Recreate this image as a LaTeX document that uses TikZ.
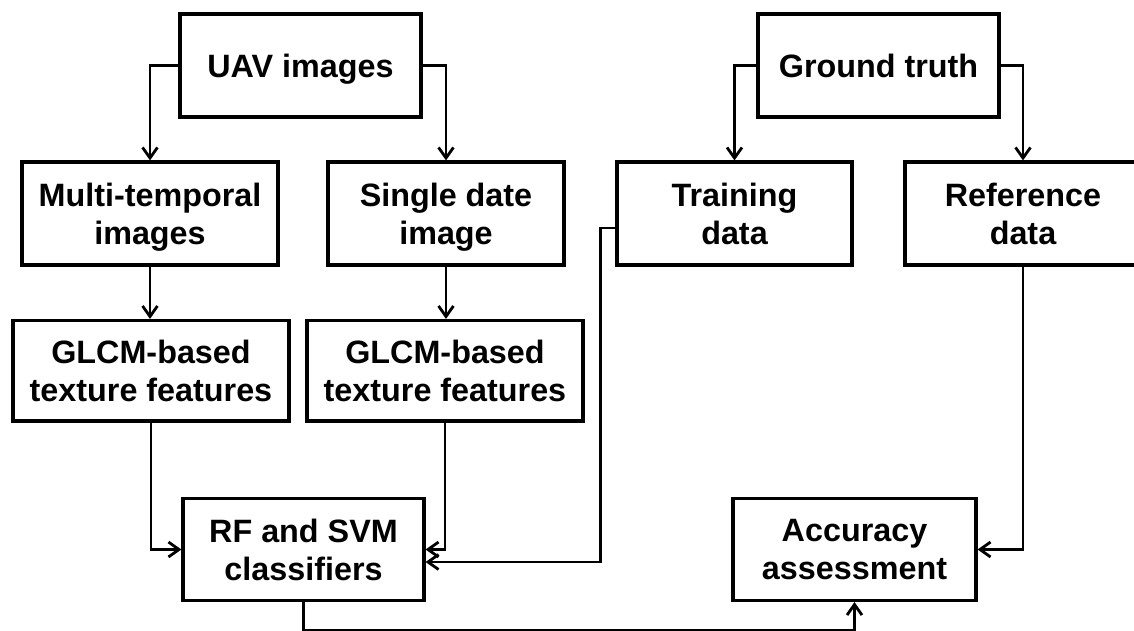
\documentclass[tikz,border=0pt]{standalone}
\usepackage{fontspec}
\setmainfont{Liberation Sans}
\usetikzlibrary{arrows.meta,calc}
\begin{document}
\begin{tikzpicture}[x=0.02cm,y=-0.02cm,
  box/.style={draw, line width=1.8pt, inner sep=0pt, align=center, text depth=0pt,
    font=\bfseries\fontsize{18.4}{21.5}\selectfont},
  conn/.style={line width=1.6pt, -{Straight Barb[length=6pt,width=8.5pt,line width=1.6pt]}}]
\useasboundingbox (0,0) rectangle (1134,630);
% row 1
\node[box, minimum width=4.82cm, minimum height=2.06cm] (uav) at (300.5,65.5) {UAV images};
\node[box, minimum width=4.82cm, minimum height=2.06cm] (gt) at (878.5,65.5) {Ground truth};
% row 2
\node[box, minimum width=5.12cm, minimum height=2.06cm] (multi) at (150,213.5) {Multi-temporal\\images};
\node[box, minimum width=4.72cm, minimum height=2.06cm] (single) at (446,213.5) {Single date\\image};
\node[box, minimum width=4.70cm, minimum height=2.06cm] (train) at (734.5,213.5) {Training\\data};
\node[box, minimum width=4.72cm, minimum height=2.06cm] (ref) at (1023,213.5) {Reference\\data};
% row 3
\node[box, minimum width=5.52cm, minimum height=2.01cm] (glcmL) at (151,370.75) {GLCM-based\\texture features};
\node[box, minimum width=5.52cm, minimum height=2.01cm] (glcmR) at (445,370.75) {GLCM-based\\texture features};
% row 4
\node[box, minimum width=4.82cm, minimum height=2.04cm] (rf) at (303.5,549.5) {RF and SVM\\classifiers};
\node[box, minimum width=4.86cm, minimum height=2.04cm] (acc) at (854.5,549.5) {Accuracy\\assessment};
% connectors
\draw[conn] (uav.west) -| (multi.north);
\draw[conn] (uav.east) -| (single.north);
\draw[conn] (gt.west) -| (train.north);
\draw[conn] (gt.east) -| (ref.north);
\draw[conn] (multi.south) -- (multi.south |- glcmL.north);
\draw[conn] (single.south) -- (single.south |- glcmR.north);
\draw[conn] (glcmL.south) |- (rf.west);
\draw[conn] (glcmR.south) |- (rf.east);
\draw[conn] ($(train.west)+(0,14.5)$) -- ++(-15,0) |- ($(rf.east)+(0,12.5)$);
\draw[conn] (ref.south) |- (acc.east);
\draw[conn] (rf.south) -- ++(0,28) -| (acc.south);
\end{tikzpicture}
\end{document}
